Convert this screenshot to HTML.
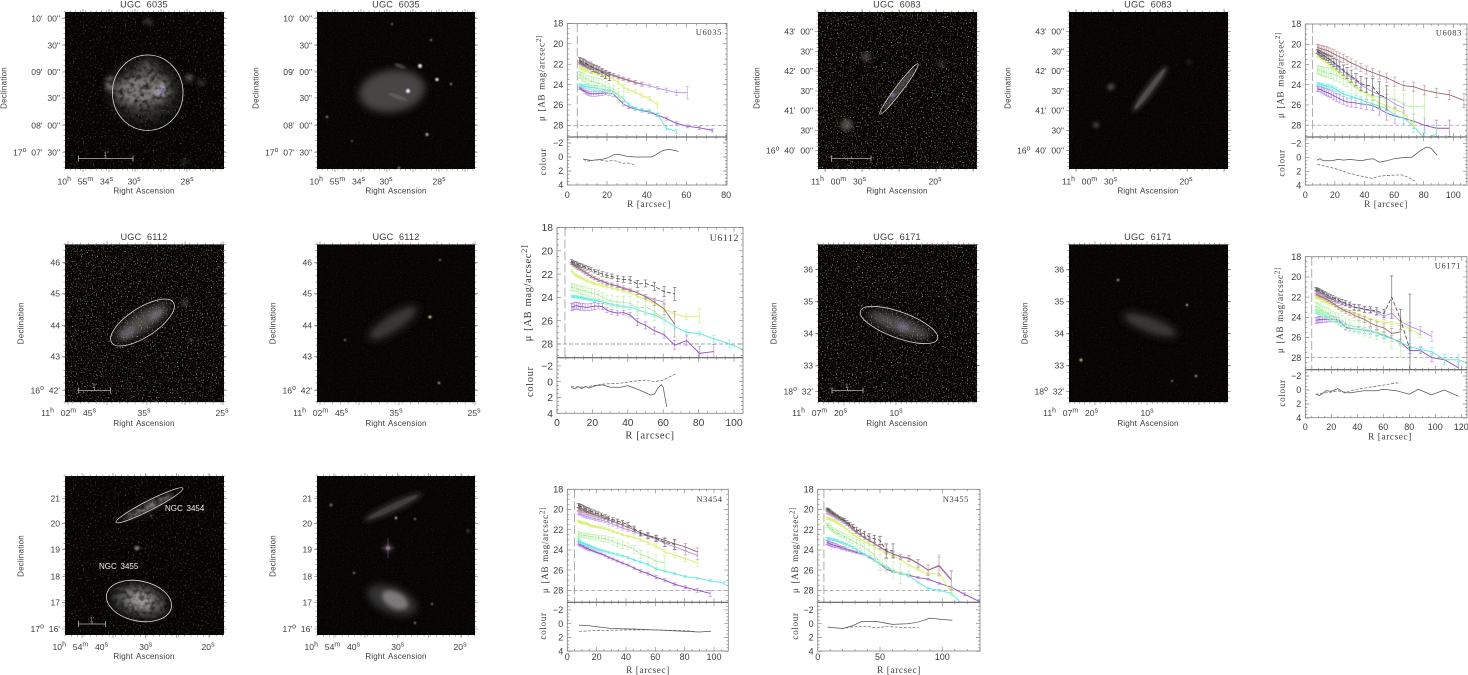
<!DOCTYPE html>
<html lang="en">
<head>
<meta charset="utf-8">
<title>Galaxy images and surface brightness profiles</title>
<style>
html,body{margin:0;padding:0;background:#fff;}
svg{display:block;}
text{font-family:"Liberation Sans",sans-serif;fill:#3c3c3c;}
.serif{font-family:"Liberation Serif",serif;letter-spacing:.6px;}
</style>
</head>
<body>
<svg id="figure" xmlns="http://www.w3.org/2000/svg" width="1468" height="675" viewBox="0 0 1468 675">
<defs>
<filter id="speckleStrong" x="0" y="0" width="1" height="1" color-interpolation-filters="sRGB">
<feTurbulence type="fractalNoise" baseFrequency="0.8" numOctaves="1" seed="4"/>
<feColorMatrix values="0 0 0 0 .60 0 0 0 0 .57 0 0 0 0 .46 6 0 0 0 -3.55"/>
</filter>
<filter id="speckleFaint" x="0" y="0" width="1" height="1" color-interpolation-filters="sRGB">
<feTurbulence type="fractalNoise" baseFrequency="0.6" numOctaves="1" seed="9"/>
<feColorMatrix values="0 0 0 0 .38 0 0 0 0 .35 0 0 0 0 .26 4 0 0 0 -2.4"/>
</filter>
<filter id="speckleDim" x="0" y="0" width="1" height="1" color-interpolation-filters="sRGB">
<feTurbulence type="fractalNoise" baseFrequency="0.8" numOctaves="1" seed="15"/>
<feColorMatrix values="0 0 0 0 .30 0 0 0 0 .27 0 0 0 0 .22 2 0 0 0 -1.2"/>
</filter>
<filter id="mottle" x="0" y="0" width="1" height="1" color-interpolation-filters="sRGB">
<feTurbulence type="fractalNoise" baseFrequency="0.2" numOctaves="2" seed="21"/>
<feColorMatrix values="0 0 0 0 .02 0 0 0 0 .02 0 0 0 0 .02 1.8 0 0 0 -.72"/>
</filter>
<filter id="blur1" x="-100%" y="-100%" width="300%" height="300%"><feGaussianBlur stdDeviation="0.8"/></filter>
<filter id="blur2" x="-100%" y="-100%" width="300%" height="300%"><feGaussianBlur stdDeviation="2"/></filter>
<filter id="blur4" x="-100%" y="-100%" width="300%" height="300%"><feGaussianBlur stdDeviation="4"/></filter>
<filter id="blur7" x="-100%" y="-100%" width="300%" height="300%"><feGaussianBlur stdDeviation="7"/></filter>
</defs>
</svg>
<script>
/* ---------- shared sampling radii (arcsec) ---------- */
const radii = [6.2,6.8,7.5,8.2,9,9.9,10.9,12,13.2,14.5,15.9,17.5,19.3,21.2,23.3,25.7,28.2,31,34.2,37.6,41.3,45.5,50,55,60.5,66.5,73.2,80.5,88.6,97.4,107.2,117.9,129.7];

/* ---------- U6035 ---------- */
const u6035Purple = [24.35,24.4,24.5,24.6,24.7,24.8,24.85,24.9,24.9,24.9,24.85,24.85,24.8,24.85,24.95,25.4,25.9,26.2,26.4,26.55,26.7,27,27.35,27.8,28.1,28.25,28.5];
const u6035PurpleErr = [.1,.1,.1,.1,.15,.2,.2,.25,.25,.25,.25,.2,.2,.2,.2,.2,.2,.15,.15,.15,.15,.15,.15,.15,.15,.15,.15];
const u6035Cyan = [24,24.05,24.1,24.15,24.2,24.2,24.25,24.3,24.3,24.35,24.4,24.45,24.5,24.55,24.7,25,25.4,25.95,26.35,26.5,26.6,26.95,28.3,28.6];
const u6035CyanErr = [.1,.1,.1,.15,.15,.2,.2,.2,.25,.25,.25,.25,.25,.25,.25,.2,.2,.15,.15,.15,.15,.15,.15,.2];
const u6035Green = [23,23.1,23.2,23.3,23.35,23.5,23.55,23.65,23.7,23.8,23.9,24,24.2,24.4,24.7,25.1,25.3];
const u6035GreenErr = [.3,.3,.35,.35,.4,.4,.4,.45,.45,.45,.5,.5,.5,.5,.6,.7,.7];
const u6035Yellow = [22.3,22.35,22.4,22.5,22.55,22.6,22.65,22.7,22.8,22.85,22.95,23.05,23.15,23.25,23.45,23.8,24.2,24.55,24.7,25.1,25.35,26];
const u6035YellowErr = [.15,.15,.15,.15,.15,.15,.15,.15,.15,.15,.15,.15,.15,.15,.15,.15,.2,.2,.2,.2,.2,.3];
const u6035Lilac = [21.85,21.9,21.95,22,22.05,22.1,22.2,22.3,22.4,22.45,22.55,22.65,22.75,22.9,23.05,23.2,23.4,23.55,23.75,23.95,24.1,24.35,24.55,24.8,24.8];
const u6035LilacErr = [.15,.15,.15,.2,.2,.3,.3,.6,.3,.2,.2,.15,.15,.15,.15,.15,.15,.15,.15,.15,.15,.15,.2,.25,.6];
const u6035Brown = [21.8,21.85,21.9,22,22.05,22.15,22.2,22.3,22.4,22.5,22.6,22.7,22.85,23,23.1,23.3,23.45,23.6,23.8,23.95];
const u6035BrownErr = [.15,.15,.15,.15,.15,.15,.15,.15,.15,.15,.15,.15,.15,.15,.15,.15,.15,.15,.2,.2];
const u6035Black = [21.6,21.7,21.75,21.8,21.9,22,22.1,22.2,22.35,22.45,22.6,22.8,23,23.2];
const u6035BlackErr = [.25,.25,.3,.3,.3,.3,.3,.3,.35,.35,.35,.4,.4,.4];
const u6035SolidR = [8,10,12,15,18,20,22,24,27,30,34,38,42,44,46,48,51,53,56];
const u6035Solid = [.3,.4,.5,.4,.3,.15,-.1,-.4,-.3,-.1,0,0,0,-.2,-.6,-.9,-1.1,-1,-.8];
const u6035DashR = [8,10,12,15,18,20,23,25,28,30,32,34];
const u6035Dash = [.3,.6,.5,.4,.5,.6,.5,.6,.9,.85,.9,1.2];

/* ---------- U6083 ---------- */
const u6083Purple = [24.4,24.45,24.45,24.5,24.6,24.7,24.75,24.85,24.95,25.1,25.25,25.4,25.55,25.7,25.75,25.8,25.9,25.95,26.05,26.4,26.8,27.1,27.3,27.6,28,28.3,28.3];
const u6083PurpleErr = [.25,.25,.25,.3,.3,.3,.35,.35,.35,.4,.4,.4,.4,.4,.45,.45,.45,.5,.5,.6,.7,.7,.7,.7,.7,.8,.8];
const u6083Cyan = [23.9,23.95,24,24,24.05,24.1,24.15,24.2,24.25,24.35,24.5,24.7,24.9,25.05,25.15,25.3,25.5,25.7,25.9,26.1,26.4,27,27.3,28.1,29.3,28.9];
const u6083CyanErr = [.15,.15,.15,.15,.15,.15,.2,.2,.2,.2,.2,.2,.25,.25,.25,.25,.3,.3,.3,.3,.4,.4,.5,.6,.8,.7];
const u6083Green = [22.5,22.55,22.6,22.65,22.7,22.75,22.8,22.85,22.9,23,23.1,23.2,23.4,23.6,23.95,24.3,24.6,24.9,25.1,25.2,25.4,25.4,26,26.2,26.1];
const u6083GreenErr = [.4,.4,.4,.45,.45,.45,.5,.5,.5,.55,.55,.6,.6,.6,.6,.6,.7,.7,.7,.8,.9,.9,1.1,1.6,1.2];
const u6083Yellow = [21.1,21.2,21.3,21.4,21.55,21.7,21.85,22,22.2,22.4,22.6,22.85,23.15,23.45,23.8,24.2,24.55,24.9,25.35,25.75,26.1,26.4,26.8,28];
const u6083YellowErr = [.1,.1,.1,.1,.1,.1,.1,.1,.1,.1,.1,.1,.1,.1,.1,.1,.1,.15,.15,.15,.2,.2,.2,.2];
const u6083Lilac = [20.7,20.8,20.9,21,21.1,21.2,21.35,21.5,21.7,21.9,22.1,22.35,22.65,22.95,23.3,23.6,24,24.35,24.7,25,25.35,25.9,26.3];
const u6083LilacErr = [.1,.1,.1,.1,.1,.1,.1,.1,.15,.15,.15,.15,.15,.2,.2,.2,.25,.3,.3,.3,.4,.4,.5];
const u6083Brown = [20.3,20.35,20.4,20.45,20.5,20.55,20.6,20.7,20.8,20.95,21.1,21.25,21.4,21.6,21.85,22.05,22.3,22.55,22.8,23.05,23.3,23.7,24.1,24.2,24.55,24.8,25,25.55];
const u6083BrownErr = [.3,.3,.3,.35,.35,.35,.35,.35,.35,.4,.4,.4,.4,.4,.4,.4,.4,.4,.4,.4,.45,.45,.45,.45,.45,.45,.45,.7];
const u6083Black = [20.7,20.8,20.9,21,21.1,21.2,21.3,21.45,21.6,21.8,22,22.25,22.55,22.85,23.15,23.5,23.9,24.05,24.2,25,25.3];
const u6083BlackErr = [.2,.2,.25,.25,.3,.3,.3,.35,.4,.4,.45,.5,.5,.55,.6,.6,.7,.7,.8,1.3,1.2];
const u6083SolidR = [8,10,12,15,18,22,26,30,38,42,46,50,55,60,66,72,78,82,85,89];
const u6083Solid = [.4,.2,.5,.5,.5,.3,.4,.3,.5,.3,.2,.7,.5,.2,.05,0,-1,-1.45,-1.3,-.3];
const u6083DashR = [8,20,30,38,45,50,55,65,70,74];
const u6083Dash = [1,1.6,2.3,2.7,3,2.7,2.6,2.5,2.9,3.4];

/* ---------- U6112 ---------- */
const u6112Purple = [24.8,24.85,24.75,24.7,24.75,24.8,24.8,24.85,24.85,24.8,24.75,24.75,24.8,25.1,25.25,25.35,25.3,25.5,26.1,26.4,26.85,27.2,28.1,27.7,28.8,28.65];
const u6112PurpleErr = [.3,.3,.3,.3,.3,.3,.3,.3,.3,.3,.3,.25,.25,.2,.2,.2,.2,.2,.3,.3,.3,.3,.4,.4,.6,.6];
const u6112Cyan = [23.9,23.9,23.95,23.95,24,24,24.05,24.1,24.15,24.2,24.25,24.3,24.4,24.5,24.6,24.7,24.8,24.85,25.05,25.3,25.5,25.9,26.5,27,27.1,27.55,28,28.6];
const u6112CyanErr = [.1,.1,.1,.1,.1,.1,.1,.1,.1,.1,.1,.1,.1,.1,.1,.1,.1,.15,.15,.15,.15,.2,.2,.2,.2,.3,.35,.35];
const u6112Green = [23.1,23.15,23.2,23.2,23.3,23.35,23.4,23.45,23.55,23.6,23.7,23.8,24,24.2,24.3,24.4,24.4,24.5,24.95,24.8,25.2,25.9];
const u6112GreenErr = [.3,.3,.3,.3,.3,.35,.35,.35,.35,.35,.35,.4,.4,.4,.5,.5,.5,.6,.6,.7,.8,1];
const u6112Yellow = [21.7,21.85,22,22.1,22.2,22.3,22.4,22.5,22.6,22.7,22.8,22.9,23,23.1,23.2,23.3,23.45,23.6,23.9,24.2,24.5,25,25.4,25.7,25.6];
const u6112YellowErr = [.1,.1,.1,.1,.1,.1,.1,.1,.1,.1,.1,.1,.1,.1,.1,.1,.1,.1,.1,.15,.15,.2,.2,.2,.65];
const u6112Lilac = [21.05,21.15,21.25,21.35,21.45,21.55,21.7,21.85,22,22.2,22.35,22.5,22.65,22.8,22.9,23,23.15,23.35,23.6,23.9,24.2,24.4];
const u6112LilacErr = [.15,.15,.15,.15,.15,.15,.15,.15,.15,.15,.15,.15,.15,.15,.15,.15,.15,.15,.15,.15,.15,.2];
const u6112Brown = [21.1,21.2,21.3,21.4,21.5,21.6,21.7,21.85,22,22.2,22.35,22.5,22.6,22.8,22.9,23.05,23.25,23.4,23.6,23.95,24.4,25,26.3];
const u6112BrownErr = [.1,.1,.1,.1,.1,.1,.1,.1,.1,.1,.1,.1,.1,.1,.1,.1,.1,.1,.15,.2,.3,.5,1.1];
const u6112Black = [20.9,21,21.05,21.1,21.2,21.25,21.3,21.4,21.5,21.6,21.75,21.85,22,22.1,22.2,22.4,22.45,22.5,22.85,22.8,23.05,23.5,23.7];
const u6112BlackErr = [.15,.15,.15,.15,.15,.15,.15,.15,.15,.15,.15,.2,.2,.2,.2,.25,.25,.3,.3,.3,.35,.45,.55];
const u6112SolidR = [8,10,12,14,16,18,22,26,30,36,40,45,50,53,55,57,59,60,62];
const u6112Solid = [.7,.9,.6,.9,.6,.8,.5,.4,.7,.7,.5,.9,1.4,1.7,1.6,.8,.4,.7,3.2];
const u6112DashR = [8,15,26,35,45,50,55,60,67];
const u6112Dash = [.6,.7,.3,.2,-.1,-.2,0,-.2,-1];

/* ---------- U6171 ---------- */
const u6171Purple = [24.3,24.3,24.25,24.2,24.25,24.2,24.2,24.2,24.2,24.2,24.2,24.2,24.3,24.6,25,25.1,25.15,25.2,25.3,25.35,25.5,25.75,26.1,26.45,27.3,27.3,28,28.2,29];
const u6171PurpleErr = [.3,.3,.3,.3,.3,.3,.3,.3,.25,.25,.25,.25,.25,.25,.25,.25,.25,.3,.3,.3,.3,.3,.3,.3,.3,.3,.4,.5,.6];
const u6171Cyan = [23.4,23.45,23.5,23.55,23.6,23.7,23.75,23.85,23.95,24.05,24.15,24.3,24.5,24.7,24.9,25.05,25.15,25.2,25.3,25.4,25.6,25.85,26.1,26.5,26.9,27.2,27.4,28.2,28.2,28.8];
const u6171CyanErr = [.2,.2,.2,.2,.2,.2,.2,.2,.2,.25,.25,.25,.25,.25,.25,.25,.25,.25,.3,.3,.3,.3,.3,.3,.3,.3,.4,.5,.5,.5];
const u6171Green = [22.9,23,23.05,23.15,23.25,23.35,23.45,23.5,23.6,23.75,23.9,24.05,24.2,24.4,24.6,24.75,24.9,25.05,25.15,25.3,25.5,25.7,26,26.7];
const u6171GreenErr = [.4,.4,.4,.45,.45,.45,.5,.5,.5,.5,.5,.5,.55,.55,.55,.55,.6,.6,.7,.7,.7,.8,1.1,1.3];
const u6171Yellow = [22,22.05,22.1,22.15,22.2,22.3,22.4,22.5,22.6,22.7,22.8,22.95,23.05,23.2,23.3,23.45,23.6,23.75,23.95,24.15,24.35,24.5,24.55,24.6,25.2,25.7];
const u6171YellowErr = [.1,.1,.1,.1,.1,.1,.1,.1,.1,.1,.1,.1,.1,.1,.1,.1,.1,.1,.1,.1,.1,.15,.15,.2,.25,.3];
const u6171Lilac = [21.5,21.55,21.6,21.65,21.7,21.75,21.85,21.95,22.05,22.15,22.25,22.35,22.45,22.6,22.7,22.85,23,23.1,23.25,23.35,23.5,23.9,23.6,24.4,24.9,25.3,25.9];
const u6171LilacErr = [.1,.1,.1,.1,.1,.1,.1,.15,.15,.15,.15,.2,.2,.2,.2,.2,.25,.25,.25,.25,.3,.3,.35,.4,.4,.4,.5];
const u6171Brown = [21.7,21.75,21.8,21.9,21.95,22,22.1,22.2,22.3,22.45,22.6,22.8,23,23.2,23.4,23.55,23.8,24,24.2,24.55,24.85,25.05,25.6,25.45];
const u6171BrownErr = [.1,.1,.1,.1,.1,.1,.1,.1,.15,.15,.15,.15,.2,.2,.2,.25,.25,.3,.3,.35,.4,.4,.5,1.1];
const u6171Black = [21.2,21.25,21.3,21.35,21.45,21.5,21.6,21.7,21.85,21.95,22.05,22.2,22.3,22.5,22.6,22.75,23,23.05,23.2,23.25,23.4,23.6,22,24.2,27.2];
const u6171BlackErr = [.15,.15,.15,.15,.15,.15,.15,.2,.2,.2,.2,.2,.2,.25,.25,.25,.3,.3,.3,.3,.35,.4,2.1,1,5.5];
const u6171SolidR = [8,11,16,20,25,30,35,45,55,60,70,80,87,97,107,118];
const u6171Solid = [.6,.8,.1,.2,-.2,.4,.4,.1,.1,-.1,.1,.6,-.1,.7,0,.9];
const u6171DashR = [8,20,25,30,40,50,60,70,73];
const u6171Dash = [.6,.3,.1,.3,-.1,-.4,-.7,-1,-1];

/* ---------- N3454 ---------- */
const n3454Purple = [23.35,23.45,23.5,23.55,23.65,23.75,23.85,23.9,24,24.1,24.2,24.3,24.4,24.55,24.75,24.9,25.1,25.3,25.5,25.8,26.1,26.35,26.7,27,27.4,27.7,28,28.3];
const n3454PurpleErr = [.15,.15,.15,.15,.15,.15,.15,.15,.1,.1,.1,.1,.1,.1,.1,.1,.1,.1,.1,.1,.15,.15,.15,.15,.15,.15,.2,.3];
const n3454Cyan = [23,23.1,23.2,23.3,23.35,23.4,23.5,23.55,23.65,23.75,23.85,23.95,24.05,24.15,24.25,24.35,24.45,24.6,24.75,25,25.2,25.45,25.9,26.1,26.35,26.65,26.8,27.05,27.3];
const n3454CyanErr = [.15,.15,.15,.1,.1,.1,.1,.1,.1,.1,.1,.1,.1,.1,.1,.1,.1,.1,.1,.1,.1,.1,.1,.1,.1,.1,.1,.1,.15];
const n3454Green = [22.45,22.5,22.5,22.55,22.55,22.6,22.6,22.65,22.7,22.7,22.75,22.8,22.85,22.9,23,23.15,23.35,23.5,23.65,23.95,24.45,24.7,25.1,25.3];
const n3454GreenErr = [.25,.25,.25,.25,.25,.25,.25,.25,.25,.25,.25,.25,.3,.3,.3,.35,.35,.35,.35,.4,.4,.5,.6,.7];
const n3454Yellow = [21.2,21.2,21.25,21.3,21.35,21.35,21.4,21.5,21.6,21.65,21.7,21.75,21.8,21.9,22,22.15,22.3,22.5,22.65,22.75,23,23.3,23.6,24.2,24.5,24.85,25.3];
const n3454YellowErr = [.1,.1,.1,.1,.1,.1,.1,.1,.1,.1,.1,.1,.1,.1,.1,.1,.1,.1,.1,.15,.15,.15,.2,.2,.25,.3,.3];
const n3454Lilac = [20.35,20.4,20.45,20.5,20.6,20.65,20.7,20.75,20.8,20.85,20.95,21,21.05,21.15,21.3,21.45,21.65,21.85,22,22.2,22.45,22.65,22.95,23.35,23.7,24.1,24.55];
const n3454LilacErr = [.15,.15,.15,.15,.15,.15,.15,.15,.15,.15,.15,.15,.15,.15,.15,.2,.2,.2,.2,.2,.2,.25,.25,.3,.3,.35,.4];
const n3454Brown = [19.95,20,20.05,20.1,20.15,20.2,20.3,20.35,20.4,20.5,20.55,20.65,20.75,20.85,21,21.15,21.35,21.55,21.75,22,22.3,22.55,22.8,23.05,23.4,23.7,24.2];
const n3454BrownErr = [.15,.15,.15,.15,.15,.15,.15,.15,.15,.15,.15,.15,.15,.15,.15,.15,.2,.2,.2,.2,.2,.25,.25,.3,.3,.35,.4];
const n3454Black = [19.6,19.65,19.7,19.75,19.8,19.9,20,20.05,20.15,20.25,20.35,20.45,20.55,20.7,20.85,21,21.15,21.3,21.5,21.9,22.35,22.6,22.85,23.25,23.45];
const n3454BlackErr = [.2,.2,.2,.2,.2,.2,.2,.2,.2,.2,.2,.2,.2,.2,.2,.2,.2,.2,.2,.25,.25,.3,.3,.4,.5];
const n3454SolidR = [8,15,30,50,70,90,98];
const n3454Solid = [.2,.3,.7,.8,1,1.2,1.1];
const n3454DashR = [8,20,40,60,80,90];
const n3454Dash = [1.1,1,.9,.9,1,1.2];

/* ---------- N3455 ---------- */
const n3455Purple = [23.25,23.3,23.35,23.4,23.45,23.5,23.55,23.6,23.65,23.7,23.8,23.85,23.95,24.05,24.15,24.25,24.35,24.45,24.7,25,25.4,25.9,26.15,26.3,26.5,26.75,26.9,27.3,27.7,28.4,29.1];
const n3455PurpleErr = [.2,.2,.2,.2,.2,.2,.2,.2,.15,.15,.15,.15,.15,.1,.1,.1,.1,.1,.1,.1,.1,.1,.1,.1,.1,.1,.1,.1,.1,.15,.2];
const n3455Cyan = [22.85,22.85,22.9,22.9,22.95,22.95,23,23.05,23.1,23.2,23.25,23.35,23.45,23.6,23.75,23.95,24.2,24.45,24.75,25.05,25.4,25.7,26.1,26.35,26.55,27.2,27.8,28,28.3,29.6];
const n3455CyanErr = [.1,.1,.1,.1,.1,.1,.1,.1,.1,.1,.1,.1,.1,.1,.1,.1,.1,.1,.1,.1,.1,.1,.1,.1,.1,.1,.1,.1,.1,.1];
const n3455Green = [21.55,21.6,21.7,21.8,21.9,22,22.1,22.2,22.3,22.45,22.55,22.65,22.8,22.95,23.1,23.3,23.5,23.8,24.05,24.5,25.25,25.6,26,26.35,26.4];
const n3455GreenErr = [.2,.2,.2,.2,.2,.2,.2,.2,.2,.25,.25,.25,.3,.3,.3,.35,.35,.4,.5,.6,.8,.7,.8,1,.3];
const n3455Yellow = [20.85,20.9,20.9,20.95,21,21.05,21.1,21.2,21.3,21.45,21.6,21.75,21.95,22.2,22.45,22.7,22.95,23.2,23.4,23.7,24,24.35,24.6,24.95,25.5,25.95,26.4,26.3,28.2];
const n3455YellowErr = [.1,.1,.1,.1,.1,.1,.1,.1,.1,.1,.1,.1,.1,.1,.1,.1,.1,.1,.1,.1,.1,.1,.1,.1,.1,.1,.15,.3,.4];
const n3455Lilac = [20.3,20.35,20.4,20.45,20.55,20.6,20.7,20.8,20.9,21,21.15,21.3,21.5,21.75,22,22.3,22.55,22.85,23.1,23.4,23.75,24.15,24.4,24.65,24.8,25.3,26,25.5,26.9];
const n3455LilacErr = [.1,.1,.1,.1,.1,.1,.1,.1,.1,.1,.1,.1,.1,.1,.1,.1,.1,.1,.1,.15,.15,.2,.2,.2,.2,.3,.5,1,.8];
const n3455Brown = [20.1,20.15,20.2,20.3,20.35,20.45,20.5,20.6,20.7,20.85,21,21.15,21.35,21.6,21.9,22.2,22.5,22.8,23.05,23.35,23.7,24.1,24.4,24.7,24.85,25.35,26,25.6,27];
const n3455BrownErr = [.1,.1,.1,.1,.1,.1,.1,.1,.1,.1,.1,.1,.1,.1,.1,.15,.15,.15,.15,.15,.2,.2,.2,.25,.3,.4,.5,.9,.95];
const n3455Black = [19.95,20,20.05,20.15,20.25,20.35,20.45,20.55,20.65,20.8,20.9,21.05,21.25,21.45,21.7,21.95,22.2,22.45,22.7,22.9,23.05,24.1,24.1];
const n3455BlackErr = [.1,.1,.1,.1,.1,.1,.1,.1,.1,.1,.1,.15,.15,.15,.2,.2,.25,.3,.3,.35,.4,.7,.7];
const n3455SolidR = [8,20,28,35,48,60,72,80,90,100,108];
const n3455Solid = [.5,.7,.3,-.3,-.3,.1,0,-.2,-.8,-.6,-.5];
const n3455DashR = [8,20,30,40,48,55,65,75,81];
const n3455Dash = [.5,.7,.4,.4,.6,.4,.5,.6,.5];

/* ---------- shared axis tick labels ---------- */
const muTicks = [18,20,22,24,26,28];
const colourTicks = [-2,0,2,4];
const xTicks20to80 = [0,20,40,60,80];
const xTicks20to100 = [0,20,40,60,80,100];
const xTicks20to120 = [0,20,40,60,80,100,120];
const xTicks50 = [0,50,100];

const NS = 'http://www.w3.org/2000/svg';
const root = document.getElementById('figure');
function mk(tag, attrs, parent) {
  const e = document.createElementNS(NS, tag);
  for (const k in attrs) e.setAttribute(k, attrs[k]);
  parent.appendChild(e);
  return e;
}
/* "^x" raises the next character run as a superscript */
function rich(t, str, size) {
  const parts = str.split(/(\^[^\s]+)/);
  let raised = false;
  parts.forEach(function (p) {
    if (!p) return;
    const s = mk('tspan', {}, t);
    if (p[0] === '^') {
      s.textContent = p.slice(1);
      s.setAttribute('dy', -size * .4);
      s.setAttribute('font-size', size * .8);
      raised = true;
    } else {
      s.textContent = p;
      if (raised) { s.setAttribute('dy', size * .4); raised = false; }
    }
  });
}

/* ---------- profile charts ---------- */
const STYLES = {
  purple: {line:'#9450c0', err:'#b88fe6', w:.95, label:'purple'},
  cyan:   {line:'#5ee8dc', err:'#84f0e4', w:.95, label:'cyan'},
  green:  {line:'#b8f4a6', err:'#bcf4ac', w:.9, label:'green', dots:true},
  yellow: {line:'#d6f264', err:'#daf284', w:.95, label:'yellow'},
  lilac:  {line:'#b890e4', err:'#c8acee', w:.9, label:'lilac'},
  brown:  {line:'#9c6872', err:'#c6a0a2', w:.9, label:'brown'},
  black:  {line:'#444444', err:'#707070', w:.8, label:'black', dash:'4 2'}
};
const charts = [
  {id:'u6035', tag:'U6035', left:567.3, right:727, top:23.5, mid:137, bottom:185, xPerUnit:1.985, muPer:10.18, mu0:23.5, c0:157, cPer:7, xt:xTicks20to80, xMinor:5,
   radii:radii, tagX:722, tagY:35, muX:541.7, muC:78, colX:543, colC:161.7, tickY:198, rX:649, rY:207, fs:9, dashX:5,
   series:[['purple',u6035Purple,u6035PurpleErr],['cyan',u6035Cyan,u6035CyanErr],['green',u6035Green,u6035GreenErr],['yellow',u6035Yellow,u6035YellowErr],['lilac',u6035Lilac,u6035LilacErr],['brown',u6035Brown,u6035BrownErr],['black',u6035Black,u6035BlackErr]],
   solidR:u6035SolidR, solid:u6035Solid, dashR:u6035DashR, dash:u6035Dash},
  {id:'u6083', tag:'U6083', left:1305.3, right:1467, top:24, mid:137, bottom:185, xPerUnit:1.48, muPer:10.12, mu0:24, c0:157.3, cPer:7, xt:xTicks20to100, xMinor:5,
   radii:radii.slice(3), tagX:1462, tagY:35.5, muX:1280.7, muC:75, colX:1281.7, colC:163, tickY:198, rX:1386, rY:207, fs:9, dashX:5,
   series:[['purple',u6083Purple,u6083PurpleErr],['cyan',u6083Cyan,u6083CyanErr],['green',u6083Green,u6083GreenErr],['yellow',u6083Yellow,u6083YellowErr],['lilac',u6083Lilac,u6083LilacErr],['brown',u6083Brown,u6083BrownErr],['black',u6083Black,u6083BlackErr]],
   solidR:u6083SolidR, solid:u6083Solid, dashR:u6083DashR, dash:u6083Dash},
  {id:'u6112', tag:'U6112', left:557, right:743, top:227.5, mid:357.7, bottom:413.3, xPerUnit:1.77, muPer:11.65, mu0:227.5, c0:381.7, cPer:7.9, xt:xTicks20to100, xMinor:5,
   radii:radii.slice(3), tagX:739, tagY:241, muX:528, muC:293, colX:530, colC:381.7, tickY:426, rX:650, rY:438.5, fs:10.3, dashX:4.5,
   series:[['purple',u6112Purple,u6112PurpleErr],['cyan',u6112Cyan,u6112CyanErr],['green',u6112Green,u6112GreenErr],['yellow',u6112Yellow,u6112YellowErr],['lilac',u6112Lilac,u6112LilacErr],['brown',u6112Brown,u6112BrownErr],['black',u6112Black,u6112BlackErr]],
   solidR:u6112SolidR, solid:u6112Solid, dashR:u6112DashR, dash:u6112Dash},
  {id:'u6171', tag:'U6171', left:1305.3, right:1467, top:256.7, mid:369.7, bottom:417.7, xPerUnit:1.3, muPer:10.1, mu0:256.7, c0:390, cPer:7, xt:xTicks20to120, xMinor:5,
   radii:radii.slice(3), tagX:1461, tagY:268.5, muX:1280, muC:310, colX:1282, colC:393, tickY:430, rX:1390, rY:439.5, fs:9, dashX:5,
   series:[['purple',u6171Purple,u6171PurpleErr],['cyan',u6171Cyan,u6171CyanErr],['green',u6171Green,u6171GreenErr],['yellow',u6171Yellow,u6171YellowErr],['lilac',u6171Lilac,u6171LilacErr],['brown',u6171Brown,u6171BrownErr],['black',u6171Black,u6171BlackErr]],
   solidR:u6171SolidR, solid:u6171Solid, dashR:u6171DashR, dash:u6171Dash},
  {id:'n3454', tag:'N3454', left:567.3, right:728.3, top:489.3, mid:602.3, bottom:651, xPerUnit:1.467, muPer:10.1, mu0:489.3, c0:623.7, cPer:6.9, xt:xTicks20to100, xMinor:5,
   radii:radii.slice(2), tagX:722.7, tagY:502, muX:545, muC:550, colX:543, colC:626, tickY:660, rX:648, rY:673, fs:9, dashX:5,
   series:[['purple',n3454Purple,n3454PurpleErr],['cyan',n3454Cyan,n3454CyanErr],['green',n3454Green,n3454GreenErr],['yellow',n3454Yellow,n3454YellowErr],['lilac',n3454Lilac,n3454LilacErr],['brown',n3454Brown,n3454BrownErr],['black',n3454Black,n3454BlackErr]],
   solidR:n3454SolidR, solid:n3454Solid, dashR:n3454DashR, dash:n3454Dash},
  {id:'n3455', tag:'N3455', left:817.7, right:980, top:489.3, mid:602.3, bottom:651, xPerUnit:1.246, muPer:10.1, mu0:489.3, c0:623.7, cPer:6.9, xt:xTicks50, xMinor:10,
   radii:radii.slice(2), tagX:969, tagY:502, muX:795, muC:550, colX:795, colC:626, tickY:660, rX:899, rY:673, fs:9, dashX:5,
   series:[['purple',n3455Purple,n3455PurpleErr],['cyan',n3455Cyan,n3455CyanErr],['green',n3455Green,n3455GreenErr],['yellow',n3455Yellow,n3455YellowErr],['lilac',n3455Lilac,n3455LilacErr],['brown',n3455Brown,n3455BrownErr],['black',n3455Black,n3455BlackErr]],
   solidR:n3455SolidR, solid:n3455Solid, dashR:n3455DashR, dash:n3455Dash}
];

function drawChart(c) {
  const xs = function (r) { return c.left + r * c.xPerUnit; };
  const ys = function (m) { return c.mu0 + (m - 18) * c.muPer; };
  const yc = function (v) { return c.c0 + v * c.cPer; };
  const g = mk('g', {}, root);
  
  

  const clipId = 'clip-' + c.id;
  const clip = mk('clipPath', {id: clipId}, g);
  mk('rect', {x: c.left, y: c.top, width: c.right - c.left, height: c.mid - c.top}, clip);

  /* reference lines */
  const sky = mk('line', {x1: c.left, x2: c.right, y1: ys(28), y2: ys(28), stroke: '#888', 'stroke-width': .7, 'stroke-dasharray': '4 2'}, g);
  
  
  const psf = mk('line', {x1: xs(c.dashX), x2: xs(c.dashX), y1: c.top, y2: c.mid, stroke: '#8a8a8a', 'stroke-width': .7, 'stroke-dasharray': '9 3'}, g);
  
  

  /* series */
  const plot = mk('g', {'clip-path': 'url(#' + clipId + ')'}, g);
  
  
  c.series.forEach(function (s) {
    const st = STYLES[s[0]];
    const vals = s[1], errs = s[2];
    let d = '';
    vals.forEach(function (v, i) {
      const px = xs(c.radii[i]).toFixed(2);
      const e = errs[i] || 0;
      const t = ys(v - e).toFixed(2), b = ys(v + e).toFixed(2);
      const hw = 1.7;
      d += 'M' + px + ' ' + t + 'V' + b + 'M' + (px - hw) + ' ' + t + 'h' + (2 * hw) + 'M' + (px - hw) + ' ' + b + 'h' + (2 * hw);
    });
    const bars = mk('path', {d: d, fill: 'none', stroke: st.err, 'stroke-width': .7}, plot);
    
    
    const pts = vals.map(function (v, i) { return xs(c.radii[i]).toFixed(2) + ',' + ys(v).toFixed(2); }).join(' ');
    const line = mk('polyline', {points: pts, fill: 'none', stroke: st.line, 'stroke-width': st.w}, plot);
    if (st.dash) line.setAttribute('stroke-dasharray', st.dash);
    
    
    if (st.dots) {
      const dotted = mk('polyline', {points: pts, fill: 'none', stroke: '#555', 'stroke-width': .6, 'stroke-dasharray': '.8 6', opacity: .7}, plot);
      
      
    }
  });

  /* colour curves */
  const solidPts = c.solid.map(function (v, i) { return xs(c.solidR[i]).toFixed(2) + ',' + yc(v).toFixed(2); }).join(' ');
  const solidLine = mk('polyline', {points: solidPts, fill: 'none', stroke: '#555', 'stroke-width': .75}, g);
  
  
  const dashPts = c.dash.map(function (v, i) { return xs(c.dashR[i]).toFixed(2) + ',' + yc(v).toFixed(2); }).join(' ');
  const dashLine = mk('polyline', {points: dashPts, fill: 'none', stroke: '#666', 'stroke-width': .7, 'stroke-dasharray': '3 1.5'}, g);
  
  

  /* frame and ticks */
  const frame = mk('rect', {x: c.left, y: c.top, width: c.right - c.left, height: c.bottom - c.top, fill: 'none', stroke: '#808080', 'stroke-width': .8}, g);
  
  
  const divider = mk('line', {x1: c.left, x2: c.right, y1: c.mid, y2: c.mid, stroke: '#444', 'stroke-width': 1}, g);
  
  

  let ticks = '';
  const lastX = (c.right - c.left) / c.xPerUnit;
  for (let v = 0; v <= lastX; v += c.xMinor) {
    const major = c.xt.indexOf(v) >= 0;
    const len = major ? 4 : 2;
    const px = xs(v).toFixed(2);
    ticks += 'M' + px + ' ' + c.top + 'v' + len + 'M' + px + ' ' + c.mid + 'v' + (-len) + 'M' + px + ' ' + c.mid + 'v' + len + 'M' + px + ' ' + c.bottom + 'v' + (-len);
  }
  for (let m = 18; ys(m) < c.mid; m += .5) {
    const len = (m % 2 === 0) ? 4 : 2;
    const py = ys(m).toFixed(2);
    ticks += 'M' + c.left + ' ' + py + 'h' + len + 'M' + c.right + ' ' + py + 'h' + (-len);
  }
  for (let v = -2.5; v <= 4; v += .5) {
    const len = (v % 2 === 0) ? 4 : 2;
    const py = yc(v).toFixed(2);
    ticks += 'M' + c.left + ' ' + py + 'h' + len + 'M' + c.right + ' ' + py + 'h' + (-len);
  }
  const tickPath = mk('path', {d: ticks, fill: 'none', stroke: '#808080', 'stroke-width': .65}, g);
  
  

  /* tick labels */
  const fs = c.fs;
  muTicks.forEach(function (v) {
    const t = mk('text', {x: c.left - 4, y: ys(v) + fs * .36, 'text-anchor': 'end', 'font-size': fs}, g);
    t.textContent = v;
    
    
  });
  colourTicks.forEach(function (v) {
    const t = mk('text', {x: c.left - 4, y: yc(v) + fs * .36, 'text-anchor': 'end', 'font-size': fs}, g);
    t.textContent = (v < 0 ? '\u2212' + (-v) : v);
    
    
  });
  c.xt.forEach(function (v) {
    const t = mk('text', {x: xs(v), y: c.tickY, 'text-anchor': 'middle', 'font-size': fs}, g);
    t.textContent = v;
    
    
  });

  /* titles */
  const tag = mk('text', {x: c.tagX, y: c.tagY, 'text-anchor': 'end', 'font-size': fs * .95, class: 'serif'}, g);
  tag.textContent = c.tag;
  
  
  const xTitle = mk('text', {x: c.rX, y: c.rY, 'text-anchor': 'middle', 'font-size': fs * 1.03, class: 'serif'}, g);
  xTitle.textContent = 'R [arcsec]';
  
  
  const muTitle = mk('text', {transform: 'translate(' + (c.muX + 3) + ' ' + c.muC + ') rotate(-90)', 'text-anchor': 'middle', 'font-size': fs * 1.03, class: 'serif', 'word-spacing': 1}, g);
  rich(muTitle, '\u03bc [AB mag/arcsec^2]', fs * 1.03);
  
  
  const colTitle = mk('text', {transform: 'translate(' + (c.colX + 3) + ' ' + c.colC + ') rotate(-90)', 'text-anchor': 'middle', 'font-size': fs * 1.03, class: 'serif'}, g);
  colTitle.textContent = 'colour';
  
  
}
charts.forEach(drawChart);

/* ---------- sky image panels ---------- */
const labels6035 = {
  yl: [[6.7,"10' 00\""],[33.5,"30\""],[60,"09' 00\""],[86,"30\""],[113.5,"08' 00\""],[140.5,"17^o 07' 30\""]],
  xl: [["10^h 55^m 34^s",48,'end'],["30^s",69,'middle'],["28^s",122,'middle']],
  majorX: [18,44,70,96,122,148], minorX: 5.2, minorY: 5.36, declDx: -61, declC: 76, title: 'UGC  6035'
};
const labels6083 = {
  yl: [[19.7,"43' 00\""],[39.5,"30\""],[59,"42' 00\""],[79,"30\""],[98.7,"41' 00\""],[118.7,"30\""],[138.7,"16^o 40' 00\""]],
  xl: [["11^h 00^m 30^s",48,'end'],["20^s",117,'middle']],
  majorX: [7,44,81,118,155], minorX: 7.4, minorY: 3.96, declDx: -61, declC: 76, title: 'UGC  6083'
};
const labels6112 = {
  yl: [[18,"46"],[49,"45"],[81,"44"],[112.4,"43"],[146,"16^o 42'"]],
  xl: [["11^h 02^m 45^s",31,'end'],["35^s",79,'middle'],["25^s",157,'middle']],
  majorX: [3,42,82,120,158], minorX: 7.8, minorY: 6.3, declDx: -44, declC: 79, title: 'UGC  6112'
};
const labels6171 = {
  yl: [[25,"36"],[57,"35"],[89,"34"],[121,"33"],[147,"18^o 32'"]],
  xl: [["11^h 07^m 20^s",29,'end'],["10^s",78,'middle']],
  majorX: [26,78,130], minorX: 5.2, minorY: 6.4, declDx: -44, declC: 79, title: 'UGC  6171'
};
const labels3454 = {
  yl: [[22.3,"21"],[47.3,"20"],[73.7,"19"],[100.3,"18"],[126.3,"17"],[153,"17^o 16'"]],
  xl: [["10^h 54^m 40^s",43,'end'],["30^s",80.7,'middle'],["20^s",143,'middle']],
  majorX: [17,48,80.7,111.7,144], minorX: 6.3, minorY: 5.2, declDx: -44, declC: 80, title: ''
};

/* blob: cx, cy, rx, ry, angle, colour, opacity, blur id */
const imagePanels = [
  {id:'ugc6035-annotated', x:65, y:12, w:159, h:157, lab:labels6035, xLabY:184.5, raY:193.5, titleY:7.5, noise:'speckleFaint', mottle:true,
   blobs:[[145,92,34,30,0,'#3e3e3a',.8,'blur7'],[143,90,27,16,-5,'#8e8c8a',.8,'blur4'],[148,68,9,8,0,'#686864',.7,'blur4'],[160,90,7,6,0,'#a6a0ae',.9,'blur2'],[162,91,3,3,0,'#9078c0',.8,'blur1'],[110,84,5,8,0,'#7a7872',.8,'blur2'],[189,78,4,4,0,'#66665e',.8,'blur2'],[201,82,5,3,0,'#44443e',.8,'blur2'],[148,22,4,3,0,'#56564e',.9,'blur2'],[185,162,3,3,0,'#56564e',.8,'blur2']],
   outlines:[[147.7,92.7,35.3,37.7,0]],
   bar:[78.5,133,158.5,"1'"], notes:[]},
  {id:'ugc6035-image', x:317, y:12, w:158, h:157, lab:labels6035, xLabY:184.5, raY:193.5, titleY:7.5, noise:'speckleDim',
   blobs:[[392,91,33,21,-8,'#5e5c5a',.75,'blur4'],[400,66,6,2,20,'#5c5c5a',.6,'blur1'],[398,97,10,2,20,'#888',.35,'blur1'],[408,91,2,2,0,'#e8e6ff',1,'blur1'],[420,66,2,2,0,'#e0e0f0',1,'blur1'],[437,79.5,1.6,1.6,0,'#e8e8e8',1,'blur1'],[451,84,1.2,1.2,0,'#8c8c70',1,'blur1'],[427,134.5,1.6,1.6,0,'#c09898',1,'blur1'],[399,168,1.2,1.2,0,'#a09090',1,'blur1'],[327,117,1.2,1.2,0,'#9a8a70',1,'blur1'],[392,24,1,1,0,'#988',1,'blur1'],[352,141,1,1,0,'#866',1,'blur1'],[431,40,1,1,0,'#aaa',1,'blur1']],
   outlines:[], notes:[]},
  {id:'ugc6083-annotated', x:818, y:12, w:159, h:157, lab:labels6083, xLabY:184.5, raY:193.5, titleY:7.5, noise:'speckleStrong',
   blobs:[[899,89,26,3,-52.8,'#5c5a5a',.7,'blur1'],[893,95,2.5,2.5,0,'#7060a8',.8,'blur1'],[866,57,5,5,0,'#484842',.8,'blur2'],[846.7,125,6,6,0,'#585850',.9,'blur2'],[941,64,4,4,0,'#3a3a32',.7,'blur2']],
   outlines:[[899,89,31.5,3.6,-52.8]],
   bar:[831.5,871,158.5,''], notes:[]},
  {id:'ugc6083-image', x:1069, y:12, w:159, h:157, lab:labels6083, xLabY:184.5, raY:193.5, titleY:7.5, noise:'speckleDim',
   blobs:[[1150,89,25,2.4,-52.8,'#989694',.9,'blur1'],[1150,89,29,5,-52.8,'#3e3e3c',.8,'blur2'],[1111,87,3.5,2.5,-30,'#787670',.9,'blur2'],[1096,125,2.5,2.5,0,'#787670',.9,'blur2'],[1189,62,2,2,0,'#48483e',.8,'blur2']],
   outlines:[], notes:[]},
  {id:'ugc6112-annotated', x:65, y:244.3, w:159, h:158, lab:labels6112, xLabY:416, raY:426, titleY:240, noise:'speckleStrong',
   blobs:[[142,322,31,9,-33,'#6e6c6c',.7,'blur4'],[156,315,7,3.5,-30,'#88809e',.6,'blur2'],[128,333,8,4.5,-30,'#7c7488',.5,'blur2'],[185,303,4,3,-30,'#4e4e5c',.8,'blur2'],[191,340,2,2,0,'#45454a',.7,'blur1']],
   outlines:[[142.5,322.5,36.8,14.5,-33]],
   bar:[78.5,110.5,390.5,"1'"], notes:[]},
  {id:'ugc6112-image', x:317, y:244.3, w:158, h:158, lab:labels6112, xLabY:416, raY:426, titleY:240, noise:'speckleDim',
   blobs:[[393,323,24,5.5,-33,'#6e6c6c',.8,'blur2'],[393,323,30,10,-33,'#2e2e2c',.8,'blur4'],[430,317,1.4,1.4,0,'#e0e0a0',1,'blur1'],[439,383,1.2,1.2,0,'#aaa',1,'blur1'],[440,260,1,1,0,'#998',1,'blur1'],[345,340,1,1,0,'#998',1,'blur1']],
   outlines:[], notes:[]},
  {id:'ugc6171-annotated', x:818, y:244.3, w:159, h:158, lab:labels6171, xLabY:416, raY:426, titleY:240, noise:'speckleStrong',
   blobs:[[899,325,33,8,20,'#6e6c6c',.7,'blur4'],[903,327,6,3.5,20,'#7c749c',.8,'blur2']],
   outlines:[[899,325,41,13,20]],
   bar:[832,863,390.5,"1'"], notes:[]},
  {id:'ugc6171-image', x:1069, y:244.3, w:159, h:158, lab:labels6171, xLabY:416, raY:426, titleY:240, noise:'speckleDim',
   blobs:[[1150,325,24,5,20,'#6e6c6a',.8,'blur2'],[1150,325,30,9,20,'#2e2e2c',.8,'blur4'],[1081,360,1.4,1.4,0,'#cccc99',1,'blur1'],[1118,280,1.2,1.2,0,'#aaa',1,'blur1'],[1187,305,1.2,1.2,0,'#aaa',1,'blur1'],[1196,376,1.2,1.2,0,'#aaa',1,'blur1'],[1172,381,1,1,0,'#998',1,'blur1']],
   outlines:[], notes:[]},
  {id:'ngc3454-3455-annotated', x:65, y:476, w:159, h:159, lab:labels3454, xLabY:650, raY:659, titleY:0, noise:'speckleFaint', mottle:true,
   blobs:[[148,507,28,3.4,-27,'#8e8c8a',.9,'blur2'],[140,601,28,16,12,'#5c5c5a',.85,'blur4'],[140,600,15,9,20,'#a8a6a4',.85,'blur4'],[137,548,1.6,1.6,0,'#f4f4a0',1,'blur1'],[137,548,3,3,0,'#66665a',.8,'blur1'],[151,516,1,1,0,'#888',1,'blur1']],
   outlines:[[149.5,505.3,37.5,4.8,-27],[139,601,33,20,12]],
   bar:[78.5,105.5,624,"1'"],
   notes:[[165,511,'NGC 3454'],[99,569,'NGC 3455']]},
  {id:'ngc3454-3455-image', x:317, y:476, w:158, h:159, lab:labels3454, xLabY:650, raY:659, titleY:0, noise:'speckleDim',
   blobs:[[393,507,27,2.8,-25,'#8a8886',.9,'blur1'],[393,507,33,6,-25,'#2e2e2c',.8,'blur2'],[392,600,26,13,22,'#3e3e3c',.85,'blur4'],[395,600,14,8,28,'#8a8888',.85,'blur2'],[388,548,1.8,1.8,0,'#fff0ff',1,'blur1'],[388,548,4,4,0,'#806478',.6,'blur2'],[331,505,1.6,1.6,0,'#666',1,'blur1'],[396,518,1.2,1.2,0,'#ccc',1,'blur1'],[415,519,1,1,0,'#998',1,'blur1'],[354,573,1,1,0,'#aaa',1,'blur1'],[468,531,2,2,0,'#2a2a2a',1,'blur1'],[432,604,1,1,0,'#998',1,'blur1'],[415,623,1,1,0,'#aa9',1,'blur1']],
   spikes:[388,548],
   outlines:[], notes:[]}
];

function drawPanel(p) {
  const g = mk('g', {}, root);
  
  
  const clipId = 'clip-' + p.id;
  const clip = mk('clipPath', {id: clipId}, g);
  mk('rect', {x: p.x, y: p.y, width: p.w, height: p.h}, clip);
  const img = mk('g', {'clip-path': 'url(#' + clipId + ')'}, g);
  
  
  mk('rect', {x: p.x, y: p.y, width: p.w, height: p.h, fill: '#060504'}, img);
  p.blobs.forEach(function (b) {
    const e = mk('ellipse', {cx: b[0], cy: b[1], rx: b[2], ry: b[3], fill: b[5], opacity: b[6], filter: 'url(#' + b[7] + ')', transform: 'rotate(' + b[4] + ' ' + b[0] + ' ' + b[1] + ')'}, img);
    
    
  });
  if (p.spikes) {
    const sp = mk('path', {d: 'M' + (p.spikes[0] - 7) + ' ' + p.spikes[1] + 'h14M' + p.spikes[0] + ' ' + (p.spikes[1] - 10) + 'v20', stroke: '#6e6068', 'stroke-width': .6, fill: 'none'}, img);
    
    
  }
  if (p.mottle) {
    const mot = mk('rect', {x: p.x, y: p.y, width: p.w, height: p.h, filter: 'url(#mottle)'}, img);
    
    
  }
  const noise = mk('rect', {x: p.x, y: p.y, width: p.w, height: p.h, filter: 'url(#' + p.noise + ')'}, img);
  
  
  p.outlines.forEach(function (o) {
    const e = mk('ellipse', {cx: o[0], cy: o[1], rx: o[2], ry: o[3], fill: 'none', stroke: '#d8d8d4', 'stroke-width': .8, transform: 'rotate(' + o[4] + ' ' + o[0] + ' ' + o[1] + ')'}, img);
    
    
  });
  if (p.bar) {
    const barG = mk('path', {d: 'M' + p.bar[0] + ' ' + p.bar[2] + 'H' + p.bar[1] + 'M' + p.bar[0] + ' ' + (p.bar[2] - 3) + 'v6M' + p.bar[1] + ' ' + (p.bar[2] - 3) + 'v6M' + ((p.bar[0] + p.bar[1]) / 2) + ' ' + (p.bar[2] - 2) + 'v2', stroke: '#b4b4b0', 'stroke-width': .8, fill: 'none'}, img);
    
    
    const bt = mk('text', {x: (p.bar[0] + p.bar[1]) / 2, y: p.bar[2] - 2.5, 'text-anchor': 'middle', 'font-size': 6, style: 'fill:#b4b4b0'}, img);
    bt.textContent = p.bar[3];
    
    
  }
  p.notes.forEach(function (n) {
    const t = mk('text', {x: n[0], y: n[1], 'font-size': 8, 'word-spacing': 1.5, style: 'fill:#f0f0f0'}, img);
    t.textContent = n[2];
    
    
  });

  const L = p.lab;
  let tickD = '';
  const rx = p.x + p.w, by = p.y + p.h;
  for (let v = 0; v <= p.w; v += L.minorX) {
    const px = (p.x + v).toFixed(1);
    tickD += 'M' + px + ' ' + p.y + 'v-1.5M' + px + ' ' + by + 'v1.5';
  }
  L.majorX.forEach(function (v) {
    const px = (p.x + v).toFixed(1);
    tickD += 'M' + px + ' ' + p.y + 'v-3M' + px + ' ' + by + 'v3';
  });
  for (let v = 0; v <= p.h; v += L.minorY) {
    const py = (p.y + v).toFixed(1);
    tickD += 'M' + p.x + ' ' + py + 'h-1.5M' + rx + ' ' + py + 'h1.5';
  }
  L.yl.forEach(function (v) {
    const py = (p.y + v[0]).toFixed(1);
    tickD += 'M' + p.x + ' ' + py + 'h-3M' + rx + ' ' + py + 'h3';
  });
  const ticks = mk('path', {d: tickD, fill: 'none', stroke: '#777', 'stroke-width': .6}, g);
  
  

  L.yl.forEach(function (v) {
    const t = mk('text', {x: p.x - 5, y: p.y + v[0] + 3, 'text-anchor': 'end', 'font-size': 8.6, 'word-spacing': 2.5}, g);
    rich(t, v[1], 8.6);
    
    
  });
  L.xl.forEach(function (v) {
    const t = mk('text', {x: p.x + v[1], y: p.xLabY, 'text-anchor': v[2], 'font-size': 8.6, 'word-spacing': 4.5}, g);
    rich(t, v[0], 8.6);
    
    
  });
  const ra = mk('text', {x: p.x + 79, y: p.raY, 'text-anchor': 'middle', 'font-size': 8, 'letter-spacing': .2, 'word-spacing': 1}, g);
  ra.textContent = 'Right Ascension';
  
  
  const dec = mk('text', {transform: 'translate(' + (p.x + L.declDx + 2.5) + ' ' + (p.y + L.declC) + ') rotate(-90)', 'text-anchor': 'middle', 'font-size': 8, 'letter-spacing': .2}, g);
  dec.textContent = 'Declination';
  
  
  if (L.title) {
    const ti = mk('text', {x: p.x + 79, y: p.titleY, 'text-anchor': 'middle', 'font-size': 9.2, 'letter-spacing': .2, style: 'white-space:pre'}, g);
    ti.textContent = L.title;
    
    
  }
}
imagePanels.forEach(drawPanel);
</script>
</body>
</html>
